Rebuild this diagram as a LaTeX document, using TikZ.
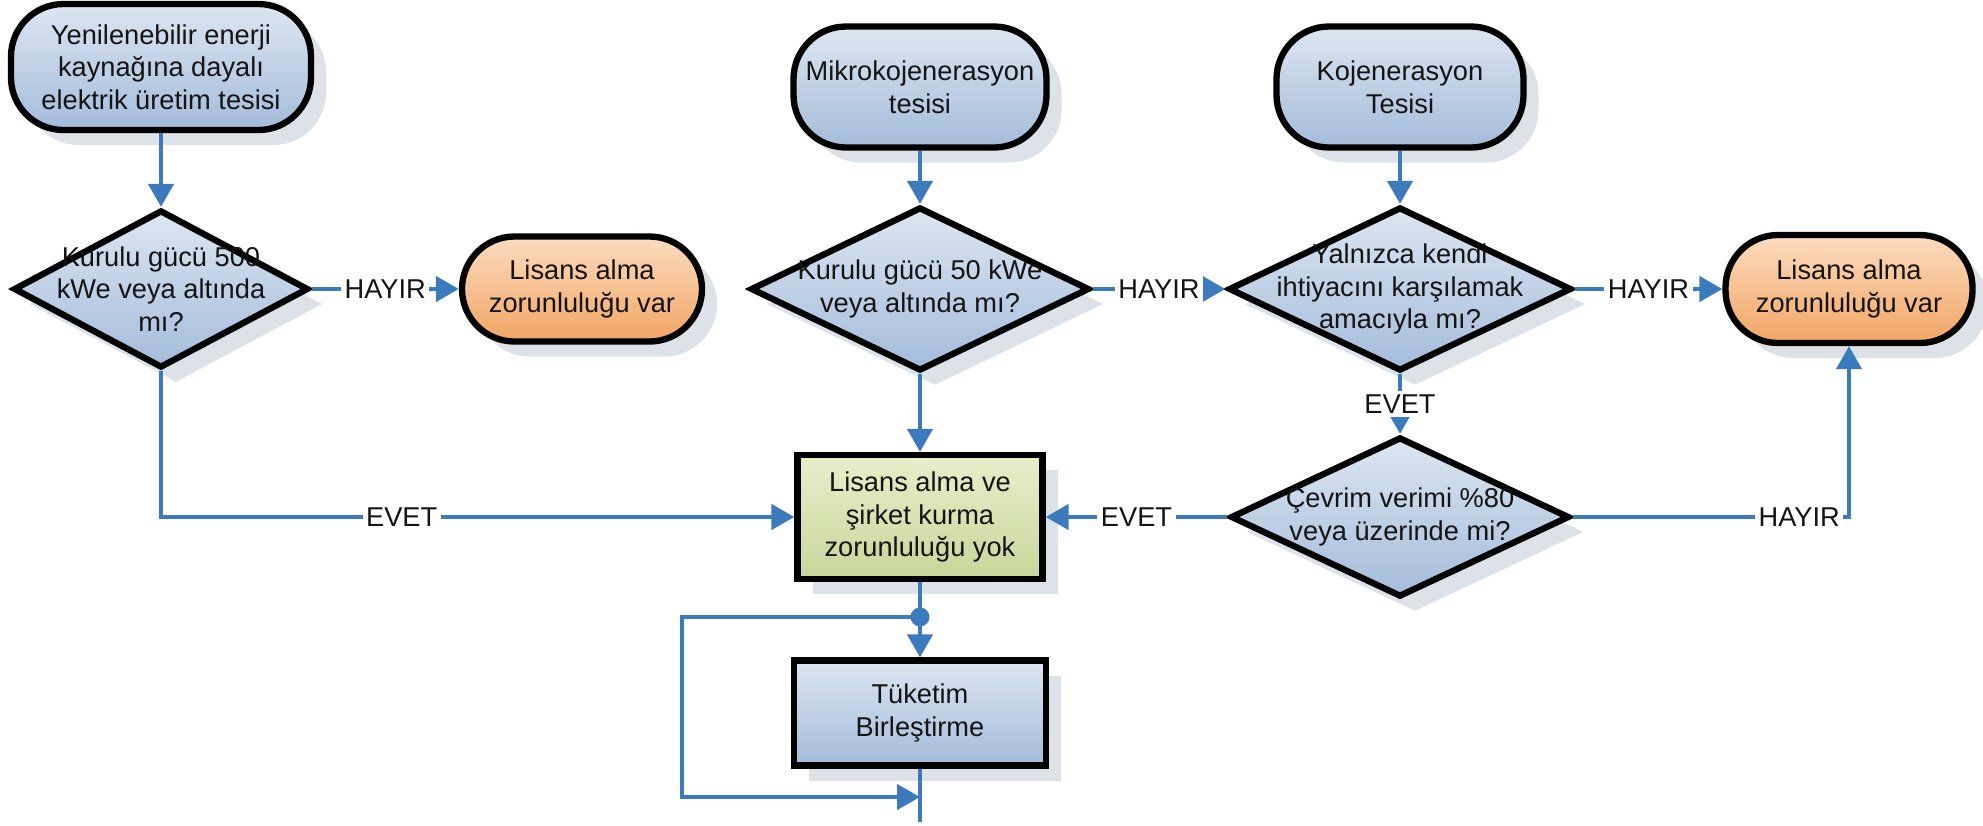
\documentclass[tikz,border=0pt]{standalone}
\usepackage{fontspec}
\setmainfont{Liberation Sans}
\usetikzlibrary{arrows.meta,positioning,shapes.geometric,shadows}
\definecolor{bluetop}{HTML}{DCE6F2}
\definecolor{bluebot}{HTML}{A4BCDA}
\definecolor{orgtop}{HTML}{FCDCC0}
\definecolor{orgbot}{HTML}{F2A564}
\definecolor{grntop}{HTML}{E8EFCB}
\definecolor{grnbot}{HTML}{C8D69A}
\definecolor{linec}{HTML}{3A7ABD}
\definecolor{shadowc}{HTML}{DDE2E8}

\begin{document}
\begin{tikzpicture}[
  on grid,
  txt/.style={font=\fontsize{15.5}{18.5}\selectfont, text=black!92},
  boxbase/.style={draw, line width=3.6pt, txt, align=center,
    drop shadow={shadow xshift=0.3cm, shadow yshift=-0.3cm, fill=shadowc, opacity=1}},
  term/.style={boxbase, rectangle, rounded corners=1.05cm, top color=bluetop, bottom color=bluebot},
  oterm/.style={term, top color=orgtop, bottom color=orgbot},
  diam/.style={boxbase, diamond, aspect=2, inner sep=-1cm, top color=bluetop, bottom color=bluebot},
  proc/.style={boxbase, rectangle, top color=bluetop, bottom color=bluebot},
  gproc/.style={proc, top color=grntop, bottom color=grnbot},
  lbl/.style={txt, fill=white, inner sep=2pt},
  conn/.style={draw=linec, line width=2.6pt},
  arr/.style={conn, -{Triangle[length=4.6mm, width=5mm]}}
]
  \useasboundingbox (0,0) rectangle (39.66,-16.5);

  \node[term, minimum width=6cm, minimum height=2.52cm] (T1) at (3.22,-1.34) {Yenilenebilir enerji\\kaynağına dayalı\\elektrik üretim tesisi};
  \node[diam, minimum width=5.9cm, minimum height=3.16cm, below=4.44cm of T1] (D1) {Kurulu gücü 500\\kWe veya altında\\mı?};
  \node[oterm, minimum width=4.8cm, minimum height=2.1cm, right=8.42cm of D1] (O1) {Lisans alma\\zorunluluğu var};
  \node[diam, minimum width=6.78cm, minimum height=3.28cm, right=15.18cm of D1] (D2) {Kurulu gücü 50 kWe\\veya altında mı?};
  \node[term, minimum width=5.06cm, minimum height=2.42cm, above=4.04cm of D2] (T2) {Mikrokojenerasyon\\tesisi};
  \node[diam, minimum width=6.86cm, minimum height=3.28cm, right=9.6cm of D2] (D3) {Yalnızca kendi\\ihtiyacını karşılamak\\amacıyla mı?};
  \node[term, minimum width=4.94cm, minimum height=2.42cm, above=4.04cm of D3] (T3) {Kojenerasyon\\Tesisi};
  \node[oterm, minimum width=4.94cm, minimum height=2.16cm, right=8.98cm of D3] (O2) {Lisans alma\\zorunluluğu var};
  \node[diam, minimum width=6.78cm, minimum height=3.2cm, below=4.56cm of D3] (D4) {Çevrim verimi \%80\\veya üzerinde mi?};
  \node[gproc, minimum width=4.9cm, minimum height=2.48cm, below=4.56cm of D2] (R1) {Lisans alma ve\\şirket kurma\\zorunluluğu yok};
  \node[proc, minimum width=5.04cm, minimum height=2.1cm, below=3.92cm of R1] (R2) {Tüketim\\Birleştirme};

  \coordinate[below=2cm of R1] (dot);
  \coordinate[left=4.76cm of dot] (loopL);
  \coordinate[below=3.6cm of dot] (loopE);
  \coordinate[below=4.1cm of dot] (outE);

  \draw[arr] (T1) -- (D1);
  \draw[arr] (T2) -- (D2);
  \draw[arr] (T3) -- (D3);
  \draw[arr] (D1) -- node[lbl] {HAYIR} (O1);
  \draw[arr] (D2) -- node[lbl] {HAYIR} (D3);
  \draw[arr] (D3) -- node[lbl] {HAYIR} (O2);
  \draw[arr] (D3) -- node[lbl] {EVET} (D4);
  \draw[arr] (D2) -- (R1);
  \draw[arr] (D1) |- node[lbl, pos=0.69] {EVET} (R1);
  \draw[arr] (D4) -- node[lbl] {EVET} (R1);
  \draw[arr] (D4) -| node[lbl, pos=0.41] {HAYIR} (O2);
  \draw[arr] (R1) -- (R2);
  \fill[linec] (dot) circle (0.19);
  \draw[arr] (dot) -- (loopL) |- (loopE);
  \draw[conn] (R2) -- (outE);
\end{tikzpicture}
\end{document}
